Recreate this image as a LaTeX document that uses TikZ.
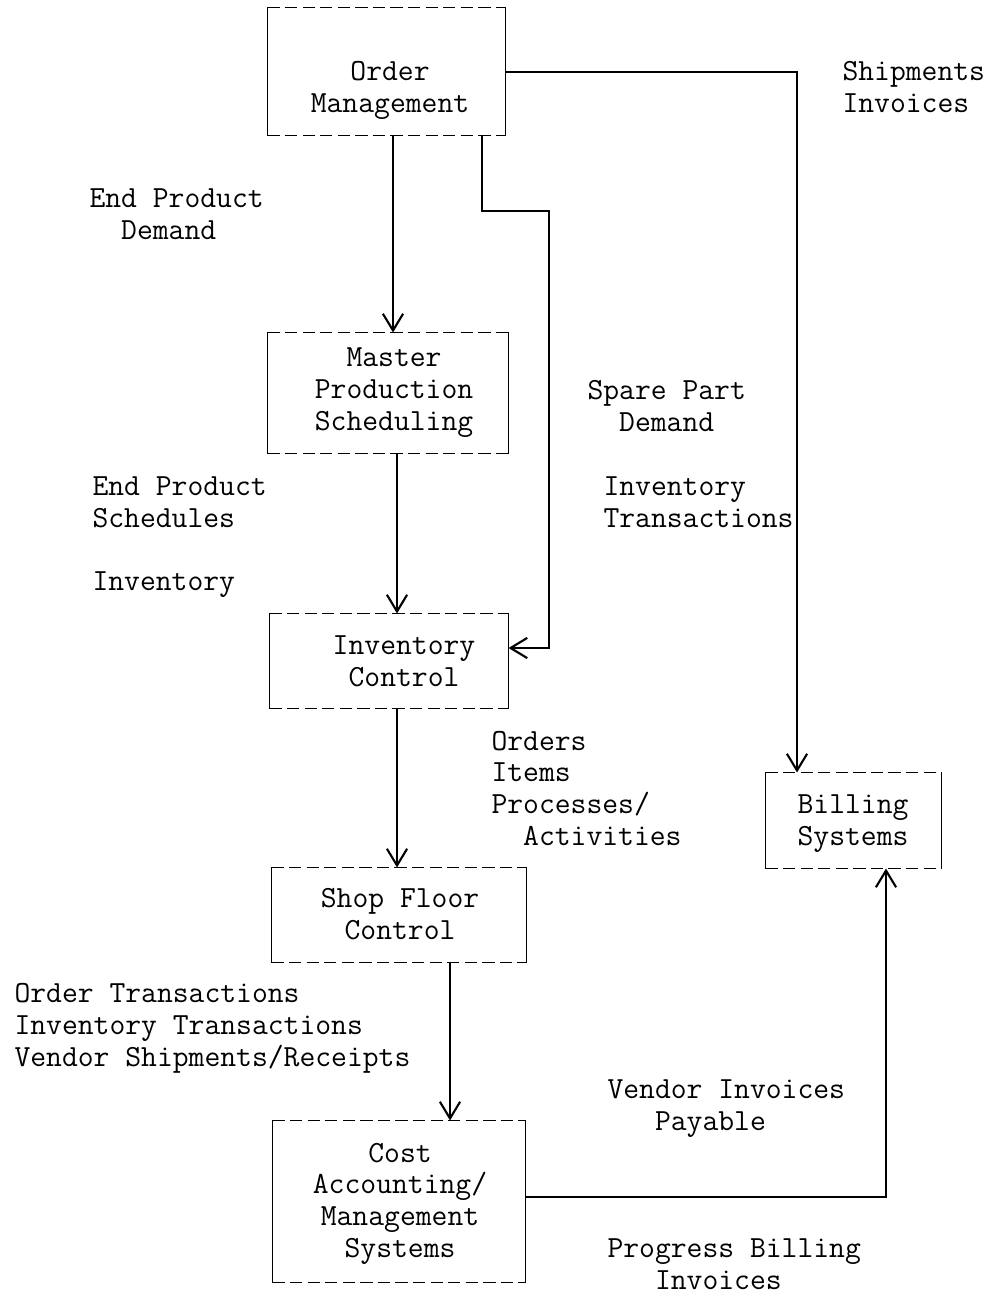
\documentclass[tikz,border=0pt]{standalone}
\usepackage{fontspec}
\usetikzlibrary{arrows.meta,fit}

\begin{document}
\begin{tikzpicture}[
  x=0.02cm,
  y=-0.02cm,
  line width=0.6pt,
  every node/.style={font=\ttfamily\fontsize{17.5}{18}\selectfont},
  flowbox/.style={inner sep=0pt},
  flowtext/.style={anchor=base, align=center, inner sep=0pt},
  flowlabel/.style={anchor=base west, align=left, inner sep=0pt},
  flowarrow/.style={-{Straight Barb[length=9.5pt,width=11.5pt,line width=1.2pt]}},
]
\useasboundingbox (0,0) rectangle (997,1298);
% boxes
\node[flowbox, fit={(268,8) (505,135)}] (om) {};
\node[flowbox, fit={(268,333) (508,453)}] (mps) {};
\node[flowbox, fit={(270,614) (508,708)}] (ic) {};
\node[flowbox, fit={(272,868) (526,962)}] (sfc) {};
\node[flowbox, fit={(766,773) (941,868)}] (bs) {};
\node[flowbox, fit={(273,1121) (525,1282)}] (ca) {};
\foreach \b in {om,mps,ic,sfc,bs,ca} {
  \draw[line width=1pt, dash pattern=on 7pt off 3pt] (\b.north west) -- (\b.north east);
  \draw[line width=1pt, dash pattern=on 7pt off 3pt] (\b.south west) -- (\b.south east);
  \draw[line width=0.9pt] (\b.north west) -- (\b.south west);
  \draw[line width=0.9pt] (\b.north east) -- (\b.south east);
}
% box texts (placed at the last baseline)
\node[flowtext] (om-t) at (390,112) {Order\\Management};
\node[flowtext] (mps-t) at (394,430) {Master\\Production\\Scheduling};
\node[flowtext] (ic-t) at (404,686) {Inventory\\Control};
\node[flowtext] (sfc-t) at (400,939) {Shop Floor\\Control};
\node[flowtext] (bs-t) at (853,845) {Billing\\Systems};
\node[flowtext] (ca-t) at (400,1257) {Cost\\Accounting/\\Management\\Systems};
% labels
\node[flowlabel] (l-ship) at (842,112) {Shipments\\Invoices};
\node[flowlabel] (l-epd) at (89,239) {End Product\\\phantom{xx}Demand};
\node[flowlabel] (l-spd) at (587,431) {Spare Part\\\phantom{xx}Demand};
\node[flowlabel] (l-eps) at (92,527) {End Product\\Schedules};
\node[flowlabel] (l-inv) at (92,590) {Inventory};
\node[flowlabel] (l-invt) at (603,527) {Inventory\\Transactions};
\node[flowlabel] (l-ord) at (491,845) {Orders\\Items\\Processes/\\\phantom{xx}Activities};
\node[flowlabel] (l-otr) at (14,1066) {Order Transactions\\Inventory Transactions\\Vendor Shipments/Receipts};
\node[flowlabel] (l-vip) at (607,1130) {Vendor Invoices\\\phantom{xxx}Payable};
\node[flowlabel] (l-pbi) at (607,1289) {Progress Billing\\\phantom{xxx}Invoices};
% connectors
\draw[flowarrow] (393,0 |- om.south) -- (393,0 |- mps.north);
\draw[flowarrow] (482,0 |- om.south) |- (549,211) |- (ic.east |- 0,648);
\draw[flowarrow] (om.east |- 0,72) -| (797,0 |- bs.north);
\draw[flowarrow] (397,0 |- mps.south) -- (397,0 |- ic.north);
\draw[flowarrow] (397,0 |- ic.south) -- (397,0 |- sfc.north);
\draw[flowarrow] (450,0 |- sfc.south) -- (450,0 |- ca.north);
\draw[flowarrow] (ca.east |- 0,1197) -| (886,0 |- bs.south);
\end{tikzpicture}
\end{document}
